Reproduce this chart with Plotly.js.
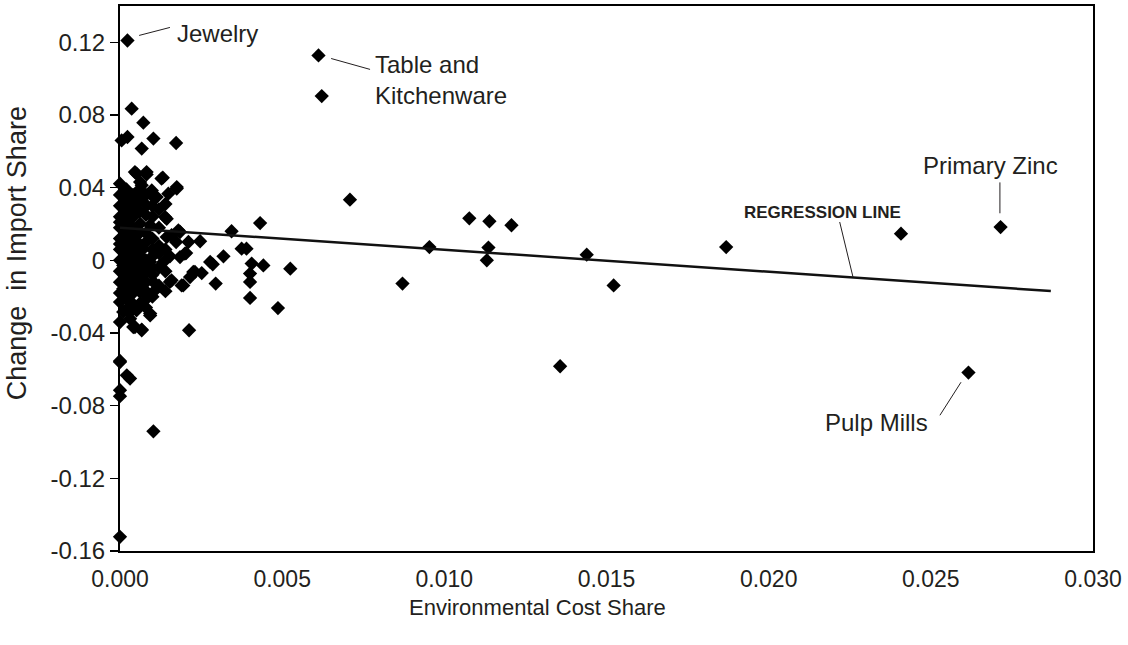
<!DOCTYPE html>
<html>
<head>
<meta charset="utf-8">
<script src="https://cdn.plot.ly/plotly-3.0.1.min.js"></script>
<style>html,body{margin:0;padding:0;background:#fff;}#chart{width:1128px;height:645px;}</style>
</head>
<body>
<div id="chart"></div>
<script>
// Environmental cost share (x) and change in import share (y) per industry
const envCostShare = [
  0.00023,0.00612,0.00622,0.00709,0.00954,0.01077,0.01139,0.01136,0.01131,0.01207,
  0.00871,0.00525,0.00487,0.01439,0.01522,0.01869,0.02408,0.02715,0.02616,0.01357,
  0.00036,0.00072,0.00005,0.00023,0.00103,0.00067,0.00173,
  0.00051,0.00082,0.00132,0.00175,0.00000,0.00067,0.00098,0.00149,0.00144,0.00113,0.00082,
  0.00432,0.00344,0.00247,0.00185,0.00173,0.00144,0.00375,0.00390,0.00319,0.00286,0.00204,0.00154,
  0.00406,0.00442,0.00401,0.00401,0.00231,0.00216,0.00195,0.00159,0.00295,0.00401,0.00213,0.00041,
  0.00067,0.00000,0.00000,0.00093,0.00031,0.00252,
  0.00000,0.00031,0.00021,0.00000,0.00000,0.00103,0.00000,
  0.00046,0.00082,0.00128,0.00175,0.00062,0.00098,0.00139,0.00159,0.00180,0.00211,0.00200,0.00278,
  0.00031,0.00062,0.00093,0.00031,0.00046,0.00072,0.00103,
  0.00041,0.00093,0.00134,0.00185,0.00226,0.00154,0.00190,0.00103,0.00113,0.00082,0.00093,0.00051,
  0.00031,0.00046,0.00067,0.00000,0.00010,0.00031,0.00062,0.00010,0.00031,0.00072,0.00010,
  0.00000,0.00000,0.00000,0.00000,0.00000,0.00000,0.00000,0.00000,0.00000,0.00000,0.00000,0.00000,
  0.00020,0.00020,0.00020,0.00020,0.00020,0.00020,0.00020,0.00020,0.00020,0.00020,0.00020,0.00020,
  0.00040,0.00040,0.00040,0.00040,0.00040,0.00040,0.00040,0.00040,0.00040,0.00040,0.00040,
  0.00060,0.00060,0.00060,0.00060,0.00060,0.00060,0.00060,0.00060,0.00060,0.00060,
  0.00080,0.00080,0.00080,0.00080,0.00080,0.00080,0.00080,0.00080,0.00080,
  0.00100,0.00100,0.00100,0.00100,0.00100,0.00100,0.00100,
  0.00120,0.00120,0.00120,0.00120,0.00120,0.00120,
  0.00140,0.00140,0.00140,0.00140
];
const importShareChange = [
  0.1210,0.1128,0.0904,0.0334,0.0073,0.0231,0.0215,0.0070,0.0000,0.0193,
  -0.0128,-0.0046,-0.0263,0.0031,-0.0138,0.0073,0.0147,0.0183,-0.0618,-0.0583,
  0.0835,0.0758,0.0660,0.0679,0.0670,0.0615,0.0646,
  0.0477,0.0473,0.0455,0.0395,0.0422,0.0413,0.0358,0.0367,0.0229,0.0348,0.0303,
  0.0205,0.0160,0.0105,0.0156,0.0101,0.0128,0.0064,0.0064,0.0022,-0.0022,0.0040,0.0022,
  -0.0018,-0.0028,-0.0073,-0.0119,-0.0064,-0.0092,-0.0138,-0.0110,-0.0128,-0.0207,-0.0385,-0.0367,
  -0.0381,-0.0340,-0.0554,-0.0293,-0.0284,-0.0070,
  -0.0560,-0.0651,-0.0633,-0.0715,-0.0748,-0.0941,-0.1522,
  0.0486,0.0486,0.0450,0.0403,0.0431,0.0385,0.0238,0.0138,0.0165,0.0101,0.0037,-0.0009,
  0.0257,0.0202,0.0193,0.0138,0.0046,0.0064,0.0028,
  -0.0009,-0.0009,-0.0009,0.0018,-0.0064,-0.0119,-0.0138,-0.0119,-0.0156,-0.0211,-0.0303,-0.0275,
  -0.0321,-0.0367,-0.0385,-0.0230,-0.0284,-0.0230,-0.0174,-0.0156,-0.0083,-0.0083,-0.0028,
  0.036,0.030,0.024,0.018,0.012,0.006,0.000,-0.006,-0.012,-0.018,0.021,0.009,
  0.039,0.033,0.027,0.021,0.015,0.009,0.003,-0.003,-0.009,-0.015,-0.021,-0.027,
  0.036,0.030,0.024,0.018,0.012,0.006,0.000,-0.006,-0.012,-0.018,-0.024,
  0.039,0.033,0.027,0.015,0.009,0.003,-0.003,-0.009,-0.015,-0.024,
  0.036,0.025,0.015,0.010,0.000,-0.005,-0.012,-0.017,-0.026,
  0.030,0.024,0.012,0.006,-0.004,-0.008,-0.020,
  0.028,0.018,0.008,0.004,-0.004,-0.014,
  0.031,0.006,-0.006,-0.017
];

// Regression line endpoints
const regressionX = [0, 0.0287];
const regressionY = [0.0180, -0.0169];

// Axis ticks
const xTickVals = [0, 0.005, 0.010, 0.015, 0.020, 0.025, 0.030];
const xTickText = ["0.000","0.005","0.010","0.015","0.020","0.025","0.030"];
const yTickVals = [-0.16,-0.12,-0.08,-0.04,0,0.04,0.08,0.12];
const yTickText = ["-0.16","-0.12","-0.08","-0.04","0","0.04","0.08","0.12"];

// Labels: text, x, y, leader start x,y, leader end x,y
const labelText = ["Jewelry","Table and<br>Kitchenware","Primary Zinc","Pulp Mills"];
const labelX = [0.0017, 0.0078, 0.0247, 0.02168];
const labelY = [0.1249, 0.0990, 0.0523, -0.0890];
const leaderX0 = [0.00059, 0.00651, 0.02713, 0.02528];
const leaderY0 = [0.1238, 0.1111, 0.0429, -0.0853];
const leaderX1 = [0.00154, 0.00771, 0.02713, 0.02593];
const leaderY1 = [0.1282, 0.1051, 0.0259, -0.0671];

const regLabel = "REGRESSION LINE";
const regLabelX = 0.01918, regLabelY = 0.0264;
const regLeader = {x0: 0.02219, y0: 0.0211, x1: 0.0226, y1: -0.0092};

const FONT = "Liberation Sans, Arial, Helvetica, sans-serif";
const TXT = "#231f20";

const traces = [
  {
    x: envCostShare, y: importShareChange, type: "scatter", mode: "markers",
    marker: {symbol: "diamond", size: 11, color: "#000"},
    cliponaxis: false, hoverinfo: "x+y"
  },
  {
    x: regressionX, y: regressionY, type: "scatter", mode: "lines",
    line: {color: "#111", width: 2.5}, hoverinfo: "skip"
  }
];

const annotations = labelText.map((t, i) => ({
  text: t, x: labelX[i], y: labelY[i], xref: "x", yref: "y",
  xanchor: "left", yanchor: "middle", align: "left", showarrow: false,
  font: {family: FONT, size: 24, color: TXT}
}));
annotations.push({
  text: "<b>" + regLabel + "</b>", x: regLabelX, y: regLabelY, xref: "x", yref: "y",
  xanchor: "left", yanchor: "middle", showarrow: false,
  font: {family: FONT, size: 17, color: TXT}
});
annotations.push({
  text: "Environmental Cost Share", xref: "paper", yref: "paper",
  x: 0.4286, y: -0.1045, xanchor: "center", yanchor: "middle", showarrow: false,
  font: {family: FONT, size: 22, color: TXT}
});
annotations.push({
  text: "Change  in Import Share", xref: "paper", yref: "paper",
  x: -0.105, y: 0.546, xanchor: "center", yanchor: "middle", textangle: -90, showarrow: false,
  font: {family: FONT, size: 27, color: TXT}
});

const shapes = labelText.map((t, i) => ({
  type: "line", xref: "x", yref: "y",
  x0: leaderX0[i], y0: leaderY0[i], x1: leaderX1[i], y1: leaderY1[i],
  line: {color: "#231f20", width: 1}
}));
shapes.push({type: "line", xref: "x", yref: "y", x0: regLeader.x0, y0: regLeader.y0,
  x1: regLeader.x1, y1: regLeader.y1, line: {color: "#231f20", width: 1}});

const layout = {
  width: 1128, height: 645,
  margin: {l: 120, r: 35, t: 6, b: 94, pad: 0},
  paper_bgcolor: "#fff", plot_bgcolor: "#fff",
  showlegend: false,
  font: {family: FONT, size: 24, color: TXT},
  xaxis: {
    range: [0, 0.030], tickvals: xTickVals, ticktext: xTickText,
    showgrid: false, zeroline: false, showline: true, linecolor: "#000", linewidth: 2,
    mirror: true, ticks: "", ticklabelstandoff: 6,
    tickfont: {family: FONT, size: 23, color: TXT}
  },
  yaxis: {
    range: [-0.16, 0.14], tickvals: yTickVals, ticktext: yTickText,
    showgrid: false, zeroline: false, showline: true, linecolor: "#000", linewidth: 2,
    mirror: true, ticks: "outside", ticklen: 8, tickwidth: 1.5, tickcolor: "#000",
    tickfont: {family: FONT, size: 24, color: TXT}
  },
  annotations: annotations,
  shapes: shapes
};

Plotly.newPlot("chart", traces, layout, {staticPlot: true, displayModeBar: false});
</script>
</body>
</html>
